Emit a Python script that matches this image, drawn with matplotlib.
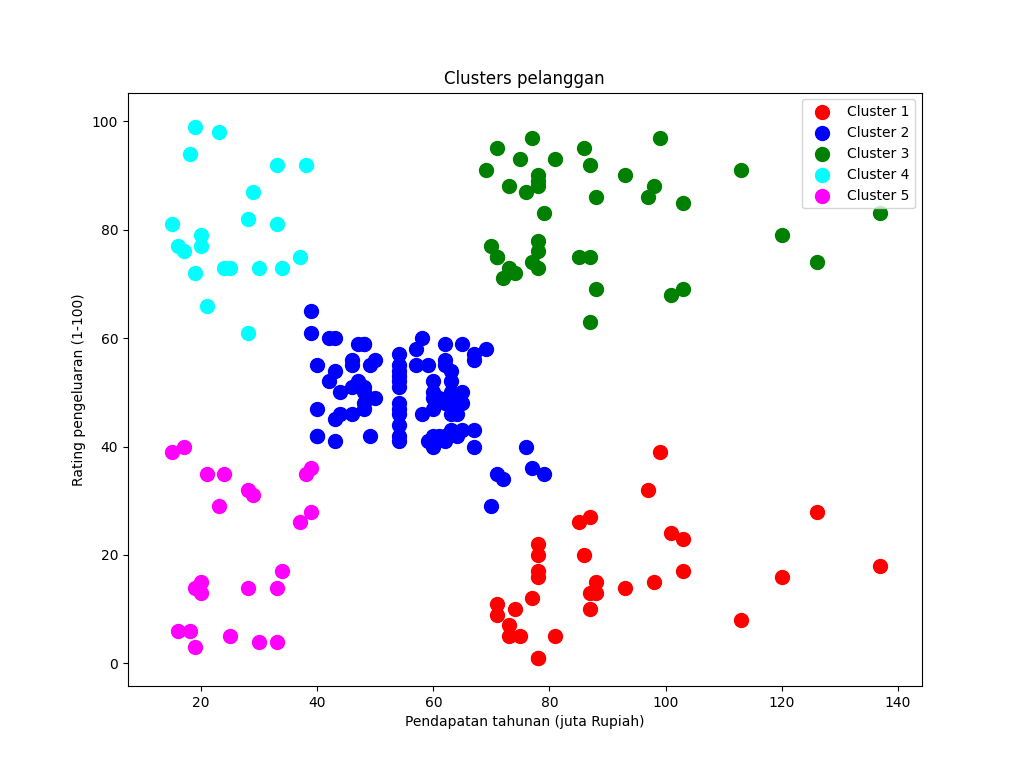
import matplotlib
matplotlib.use("Agg")
import matplotlib.pyplot as plt
import numpy as np

c1_x = [71,71,73,73,74,75,77,78,78,78,78,78,78,81,85,86,87,87,87,88,88,93,97,98,99,101,103,103,113,120,126,137]
c1_y = [11,9,5,7,10,5,12,22,17,20,16,1,1,5,26,20,27,13,10,13,15,14,32,15,39,24,17,23,8,16,28,18]

c2_x = [39,39,40,40,40,40,42,42,43,43,43,43,44,44,46,46,46,46,47,47,48,48,48,48,48,48,49,49,50,50,
        54,54,54,54,54,54,54,54,54,54,54,54,57,57,58,58,59,59,60,60,60,60,60,60,61,61,
        62,62,62,62,62,62,63,63,63,63,63,63,64,64,65,65,65,65,67,67,67,67,69,70,71,72,76,77,79]
c2_y = [61,65,55,47,42,42,52,60,54,60,45,41,50,46,51,46,56,55,52,59,51,59,50,48,59,47,55,42,49,56,
        47,54,53,48,52,42,51,55,41,44,57,46,58,55,60,46,55,41,49,40,42,52,47,50,42,49,
        41,48,59,55,56,42,50,46,43,48,52,54,42,46,48,50,43,59,43,57,56,40,58,29,35,34,40,36,35]

c3_x = [69,70,71,71,71,72,73,73,74,75,76,77,77,78,78,78,78,78,78,79,81,85,86,87,87,87,88,88,93,97,98,99,101,103,103,113,120,126,137]
c3_y = [91,77,95,75,75,71,88,73,72,93,87,97,74,90,88,76,89,78,73,83,93,75,95,63,75,92,86,69,90,86,88,97,68,85,69,91,79,74,83]

c4_x = [15,16,17,18,19,19,20,20,21,23,24,25,28,28,29,30,33,33,34,37,38]
c4_y = [81,77,76,94,72,99,77,79,66,98,73,73,82,61,87,73,92,81,73,75,92]

c5_x = [15,16,17,18,19,19,20,20,21,23,24,25,28,28,29,30,33,33,34,37,38,39,39]
c5_y = [39,6,40,6,3,14,15,13,35,29,35,5,14,32,31,4,4,14,17,26,35,36,28]

clusters = [(c1_x, c1_y, 'red', 'Cluster 1'),
            (c2_x, c2_y, 'blue', 'Cluster 2'),
            (c3_x, c3_y, 'green', 'Cluster 3'),
            (c4_x, c4_y, 'cyan', 'Cluster 4'),
            (c5_x, c5_y, 'magenta', 'Cluster 5')]

fig, ax = plt.subplots(figsize=(10.24, 7.71), dpi=100)
for x, y, c, lab in clusters:
    ax.scatter(x, y, s=100, c=c, label=lab)
ax.set_xlim(7.4, 144.1)
ax.set_ylim(-4.2, 105.3)
ax.set_title('Clusters pelanggan')
ax.set_xlabel('Pendapatan tahunan (juta Rupiah)')
ax.set_ylabel('Rating pengeluaran (1-100)')
ax.legend(loc='upper right')
fig.savefig('out.png', dpi=100)
